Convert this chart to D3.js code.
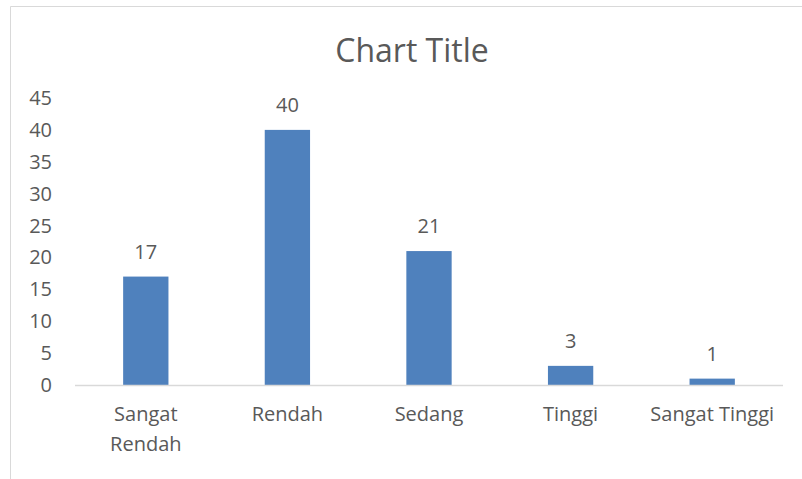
<!DOCTYPE html>
<html>
<head>
<meta charset="utf-8">
<script src="https://cdn.jsdelivr.net/npm/d3@7"></script>
<style>
  body { margin: 0; background: #fff; }
  text { font-family: "Open Sans", "Noto Sans", sans-serif; fill: #595959; }
</style>
</head>
<body>
<div id="chart"></div>
<script>
var categories = [["Sangat", "Rendah"], ["Rendah"], ["Sedang"], ["Tinggi"], ["Sangat Tinggi"]];
var values = [17, 40, 21, 3, 1];
var yTicks = [0, 5, 10, 15, 20, 25, 30, 35, 40, 45];

var width = 802, height = 479;
var svg = d3.select("#chart").append("svg")
    .attr("width", width)
    .attr("height", height);

// Chart area border (only top and left edge visible)
svg.append("path")
    .attr("d", "M10.5," + height + "V6.5H" + width)
    .style("fill", "none")
    .style("stroke", "#d9d9d9")
    .style("stroke-width", 1);

svg.append("text")
    .attr("x", 412)
    .attr("y", 62)
    .attr("text-anchor", "middle")
    .style("font-size", "32px")
    .text("Chart Title");

var x = d3.scaleBand()
    .domain(d3.range(values.length))
    .range([75, 783])
    .paddingInner(0.68)
    .paddingOuter(0.34);

var y = d3.scaleLinear()
    .domain([0, 45])
    .range([385, 98]);

// y tick labels
svg.selectAll(".ytick")
    .data(yTicks)
    .enter()
    .append("text")
    .attr("class", "ytick")
    .attr("x", 52)
    .attr("y", function (d) { return y(d); })
    .attr("dy", "0.35em")
    .attr("text-anchor", "end")
    .style("font-size", "20px")
    .text(function (d) { return d; });

// bars
svg.selectAll(".bar")
    .data(values)
    .enter()
    .append("rect")
    .attr("class", "bar")
    .attr("x", function (d, i) { return x(i); })
    .attr("y", function (d) { return y(d); })
    .attr("width", x.bandwidth())
    .attr("height", function (d) { return y(0) - y(d); })
    .style("fill", "#4f81bd");

// baseline
svg.append("line")
    .attr("x1", 75)
    .attr("x2", 783)
    .attr("y1", y(0) + 0.5)
    .attr("y2", y(0) + 0.5)
    .style("stroke", "#d9d9d9")
    .style("stroke-width", 1.5);

// data labels
svg.selectAll(".label")
    .data(values)
    .enter()
    .append("text")
    .attr("class", "label")
    .attr("x", function (d, i) { return x(i) + x.bandwidth() / 2; })
    .attr("y", function (d) { return y(d) - 18; })
    .attr("text-anchor", "middle")
    .style("font-size", "20px")
    .text(function (d) { return d; });

// category labels
var cat = svg.selectAll(".cat")
    .data(categories)
    .enter()
    .append("text")
    .attr("class", "cat")
    .attr("text-anchor", "middle")
    .style("font-size", "20px");
cat.selectAll("tspan")
    .data(function (d, i) { return d.map(function (s) { return { s: s, i: i }; }); })
    .enter()
    .append("tspan")
    .attr("x", function (d) { return x(d.i) + x.bandwidth() / 2; })
    .attr("y", function (d, j) { return 421 + j * 30; })
    .text(function (d) { return d.s; });
</script>
</body>
</html>
